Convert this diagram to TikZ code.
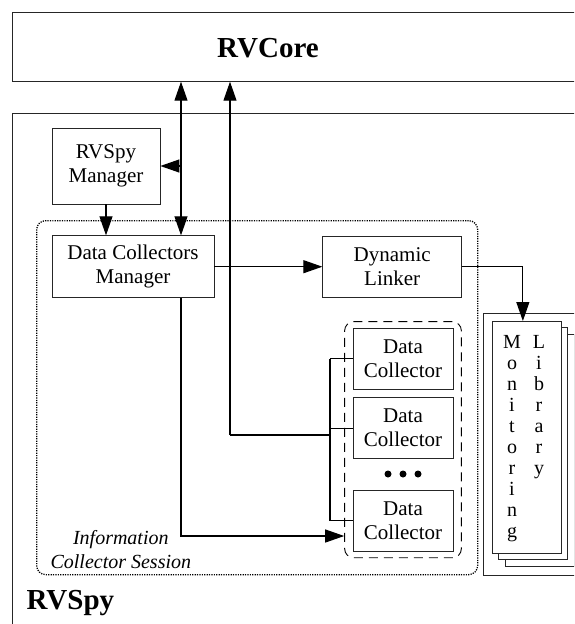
\documentclass[tikz,border=0pt]{standalone}
\usepackage{fontspec}
\setmainfont{Liberation Serif}
\usetikzlibrary{arrows.meta,positioning,fit}
\tikzset{>={Triangle[length=19pt,width=13pt]}}
\tikzset{box/.style={draw=black!85, line width=0.7pt, fill=white, align=center,
    inner sep=2pt, font=\fontsize{21}{24}\selectfont}}
\tikzset{bigbox/.style={draw=black!85, line width=0.7pt, inner sep=0pt}}
\tikzset{title/.style={inner sep=0pt, font=\fontsize{29}{32}\selectfont\bfseries}}

\begin{document}
\begin{tikzpicture}[x=1pt, y=-1pt, line width=1.1pt, node distance=8pt]
    \tikzstyle{session}=[draw, line width=1.3pt, dash pattern=on 1.2pt off 1.2pt,
    rounded corners=9pt, inner sep=0pt]
    \tikzstyle{sessionlabel}=[align=center, inner sep=0pt,
    font=\fontsize{20}{24}\selectfont\itshape]
    \tikzstyle{dcset}=[draw, line width=0.9pt, dash pattern=on 9pt off 6pt,
    rounded corners=9pt, inner xsep=8pt, inner ysep=6pt]
    \tikzstyle{page}=[bigbox, fill=white, minimum width=69pt, minimum height=232pt]
    \tikzstyle{letters}=[align=center, inner sep=0pt, font=\fontsize{20}{21}\selectfont]
    \tikzstyle{dot}=[circle, fill, inner sep=0pt, minimum size=7pt]
    \useasboundingbox (0,0) rectangle (574,624);
    \clip (0,0) rectangle (574,624);
    % outer blocks
    \node[bigbox, anchor=north west, minimum width=600pt, minimum height=69pt] (rvcore) at (12,12) {};
    \node[title, anchor=base] (rvcorelabel) at (268,57) {RVCore};
    \node[bigbox, anchor=north west, minimum width=600pt, minimum height=540pt] (rvspy) at (12,113) {};
    \node[title, anchor=base west] (rvspylabel) at (26,609) {RVSpy};
    % session
    \node[session, anchor=north west, minimum width=441pt, minimum height=354pt] (session) at (36,220) {};
    \node[sessionlabel, anchor=south west] (sessioninfo) at ([xshift=14pt, yshift=6pt]session.south west) {Information\\Collector Session};
    % managers
    \node[box, minimum width=108pt, minimum height=76pt] (rvspymgr) at (106,166) {RVSpy\\Manager};
    \node[box, minimum width=162pt, minimum height=62pt, below=31pt of rvspymgr.south west, anchor=north west] (dcmgr) {Data Collectors\\Manager};
    \node[box, minimum width=139pt, minimum height=61pt, right=108pt of dcmgr] (linker) {Dynamic\\Linker};
    % collectors
    \node[box, minimum width=100pt, minimum height=61pt] (dc1) at (403,358.5) {Data\\Collector};
    \node[box, minimum width=100pt, minimum height=61pt, below=of dc1] (dc2) {Data\\Collector};
    \node[box, minimum width=100pt, minimum height=61pt, below=31pt of dc2] (dc3) {Data\\Collector};
    \node[dcset, fit=(dc1)(dc3)] (dcset) {};
    \foreach \i/\x in {1/388,2/403,3/418}
        \node[dot] (dot\i) at (\x,474) {};
    % monitoring library
    \node[bigbox, anchor=north west, minimum width=110pt, minimum height=262pt] (libframe) at (483,313) {};
    \node[page, anchor=north west] (page3) at (505,334) {};
    \node[page, anchor=north west] (page2) at (498,327) {};
    \node[page, anchor=north west] (page1) at (492,321) {};
    \node[letters, anchor=north] (monlabel) at (512,335) {M\\o\\n\\i\\t\\o\\r\\i\\n\\g};
    \node[letters, anchor=north] (liblabel) at (539,335) {L\\i\\b\\r\\a\\r\\y};
    % connectors
    \coordinate (tapA) at (181,166);
    \coordinate (tapB) at (230,435);
    \coordinate (busx) at (330,435);
    \coordinate (tapC) at (181,536);
    \coordinate (libin) at ([xshift=-4pt]page1.north);

    \draw[<->] (tapA |- rvcore.south) -- (tapA |- dcmgr.north);
    \draw[->] (tapA) -- (rvspymgr.east);
    \draw[->] (rvspymgr.south) -- (rvspymgr.south |- dcmgr.north);
    \draw[->] (tapB) -- (tapB |- rvcore.south);
    \draw (tapB) -- (busx);
    \draw (busx |- dc1.west) -- (busx |- dc3.west);
    \draw (busx |- dc1.west) -- (dc1.west);
    \draw (busx |- dc2.west) -- (dc2.west);
    \draw (busx |- dc3.west) -- (dc3.west);
    \draw[->] (dcmgr.east) -- (linker.west);
    \draw[->] (linker.east) -| (libin);
    \draw[->] (tapA |- dcmgr.south) -- (tapC) -- (tapC -| dcset.west);
\end{tikzpicture}
\end{document}
